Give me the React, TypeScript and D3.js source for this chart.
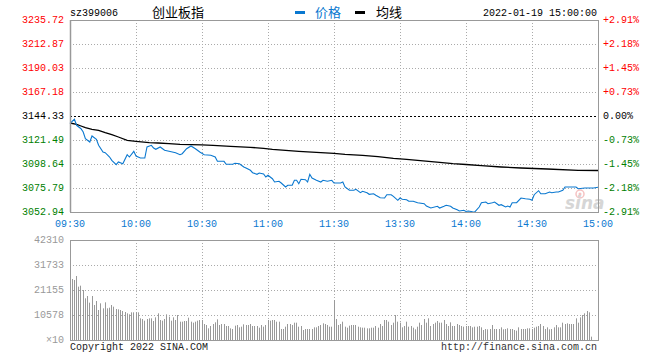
import React from "react";
import * as d3 from "d3";

const priceTicks = [3235.72, 3212.87, 3190.03, 3167.18, 3144.33, 3121.49, 3098.64, 3075.79, 3052.94];
const pctTicks = ["+2.91%", "+2.18%", "+1.45%", "+0.73%", "0.00%", "-0.73%", "-1.45%", "-2.18%", "-2.91%"];
const timeMinutes = [0, 30, 60, 90, 120, 150, 180, 210, 240];
const timeLabels = ["09:30", "10:00", "10:30", "11:00", "11:30", "13:30", "14:00", "14:30", "15:00"];
const volTickValues = [42310, 31733, 21155, 10578, 0];
const volTickLabels = ["42310", "31733", "21155", "10578", "×10"];

const priceT = [0,2,3,5,6,7,9,10,12,13,15,16,18,19,21,22,24,26,27,29,30,32,34,35,37,38,39,41,43,45,48,50,51,53,55,57,59,61,64,66,67,70,71,74,75,77,79,80,82,83,85,86,88,89,90,92,93,95,96,98,99,101,102,103,104,105,107,108,109,110,112,114,115,117,119,120,123,124,125,127,129,130,132,133,135,136,138,139,141,143,144,146,147,149,150,151,153,154,156,158,161,162,164,167,168,170,171,173,174,176,177,179,180,181,183,184,186,187,189,190,192,193,195,196,198,199,200,201,203,205,207,209,210,211,213,214,216,218,219,221,222,224,225,228,230,231,234,236,238,240];
const priceV = [3137.3,3141.19,3135.48,3132.24,3129.10,3122.72,3119.58,3125.29,3122.15,3116.43,3110.06,3109.39,3105.29,3102.15,3097.96,3100.53,3098.92,3107.48,3105.29,3110.72,3106.25,3104.34,3104.34,3114.82,3116.43,3113.86,3112.63,3114.82,3111.67,3110.72,3109.39,3107.48,3108.44,3113.20,3115.77,3113.20,3110.06,3107.48,3106.91,3105.29,3101.20,3101.20,3098.34,3098.34,3099.30,3098.92,3095.77,3094.82,3092.63,3090.35,3088.82,3090.06,3089.11,3086.25,3087.87,3084.63,3081.49,3082.16,3080.54,3076.73,3078.35,3078.35,3083.11,3083.11,3079.87,3084.06,3083.68,3081.49,3088.82,3085.30,3083.11,3081.49,3083.11,3082.16,3083.11,3080.54,3080.54,3081.49,3076.73,3073.59,3073.59,3074.54,3071.31,3072.64,3071.31,3069.78,3070.35,3068.83,3066.55,3066.26,3069.40,3069.40,3067.88,3064.07,3066.26,3065.02,3064.64,3063.12,3063.12,3061.78,3060.83,3058.64,3056.74,3058.36,3056.74,3058.36,3059.31,3058.36,3056.74,3055.12,3053.88,3054.55,3053.41,3053.88,3053.20,3053.00,3057.69,3061.78,3062.45,3060.83,3061.78,3062.45,3059.31,3059.88,3057.69,3058.64,3057.69,3061.78,3061.78,3066.26,3065.59,3065.02,3064.07,3069.40,3073.21,3070.35,3070.35,3071.97,3071.31,3071.97,3071.97,3073.59,3076.73,3076.73,3076.73,3075.11,3075.78,3075.78,3075.78,3076.45];

const avgT = [0,3,5,7,10,13,16,19,22,26,30,36,40,45,50,60,65,73,82,88,92,98,104,112,120,125,133,140,147,153,158,163,168,174,180,187,196,205,217,231,240];
const avgV = [3137.67,3136.43,3134.81,3133.19,3131.67,3130.72,3128.43,3126.53,3124.34,3121.19,3120.24,3118.91,3118.62,3117.96,3117.39,3116.9,3116.43,3115.48,3114.53,3113.58,3112.63,3111.67,3110.72,3109.77,3108.82,3107.87,3106.91,3105.58,3104.06,3103.11,3102.15,3101.20,3100.25,3098.92,3098.15,3097.01,3095.77,3094.82,3093.87,3092.63,3092.44];

const volumes = [
  42310,25809,25386,27078,22565,22988,21155,17629,18616,15797,18616,14808,16501,12693,15515,13398,15938,13398,13680,14808,
  14103,13116,12975,12693,12270,11847,11283,10860,11706,11706,11706,11706,9167,8885,8180,8885,9167,9167,8039,9590,
  11283,8462,8180,8885,10860,9872,8180,9590,8462,10578,7757,7757,8039,8039,9449,7757,7334,7757,8180,8462,
  8462,6770,6347,4936,5923,6770,7475,8744,6347,6770,6770,5923,5923,4936,4654,6065,6347,5359,5641,6629,
  6347,6347,6770,5923,5923,5923,5218,6347,5641,6347,8462,8180,8462,8462,7757,7757,4654,4654,5641,6770,
  6770,6347,7334,7334,5641,5923,4231,4654,4654,4654,4654,5359,5359,5923,6347,7052,6770,6347,5641,5641,
  16924,8885,6347,6770,7757,5641,5218,6065,6347,6347,6347,5641,5359,5218,5218,4936,4936,5218,5218,5923,
  5218,6770,5923,8462,8462,7757,6347,7334,10578,7757,7334,5359,5923,7757,5641,5923,5218,4513,5641,7334,
  6347,8885,7334,9167,5923,6770,7334,8039,7334,7334,8462,6770,5923,7475,5923,5923,6770,6347,5923,5641,
  5923,5923,5923,5359,5641,5641,5923,5359,4231,4654,4513,4654,6347,4654,4654,4654,5359,4513,4654,4936,
  4654,4654,4231,3949,5359,4654,4654,4654,4936,4936,4654,5218,5641,5923,6770,5923,4654,5359,4513,4654,
  5359,6347,5359,5359,7334,6770,7052,6770,6770,6770,9167,7334,9590,10578,11283,12270,11706,1411,0,0,0
];

const W = 660, H = 360;
const L = 70, R = 598, PT = 20, PB = 212, VT = 240, VB = 340;
const MONO = "'Liberation Mono', 'DejaVu Sans Mono', monospace";
const CJK = "'Noto Sans CJK SC', sans-serif";
const RED = "#ff0000", GREEN = "#008000", BLUE = "#0a78d0";

export default function App() {
  const x = d3.scaleLinear().domain([0, 240]).range([L, R]);
  const y = d3.scaleLinear().domain([3052.94, 3235.72]).range([PB, PT]);
  const yv = d3.scaleLinear().domain([0, 42310]).range([VB, VT]);
  const base = 3144.33;

  const priceLine = d3.line<number>().x((_, i) => x(priceT[i])).y((v) => y(v))(priceV) || "";
  const avgLine = d3.line<number>().x((_, i) => x(avgT[i])).y((v) => y(v))(avgV) || "";

  const labelColor = (v: number) => (Math.abs(v - base) < 0.01 ? "#000" : v > base ? RED : GREEN);

  return (
    <svg width={W} height={H} style={{ position: "absolute", left: 0, top: 0, background: "#fff" }}
      fontFamily={MONO} fontSize={10}>
      {/* header */}
      <text x={70} y={13} dominantBaseline="middle" fill="#000">sz399006</text>
      <text x={152} y={13} dominantBaseline="middle" fontFamily={CJK} fontSize={13} fill="#000">创业板指</text>
      <rect x={295} y={11} width={10} height={3} fill={BLUE} />
      <text x={315} y={13} dominantBaseline="middle" fontFamily={CJK} fontSize={13} fill={BLUE}>价格</text>
      <rect x={355} y={11} width={10} height={3} fill="#000" />
      <text x={376} y={13} dominantBaseline="middle" fontFamily={CJK} fontSize={13} fill="#000">均线</text>
      <text x={597} y={13} dominantBaseline="middle" textAnchor="end" fill="#000">2022-01-19 15:00:00</text>

      {/* price grid */}
      {priceTicks.slice(1, -1).map((v) => Math.abs(v - base) < 0.01 ? null : (
        <line key={"hg" + v} x1={L} x2={R} y1={Math.round(y(v)) + 0.5} y2={Math.round(y(v)) + 0.5}
          stroke="#aaa" strokeDasharray="1,2" />
      ))}
      {timeMinutes.slice(1, -1).map((t) => (
        <line key={"vg" + t} x1={Math.round(x(t)) + 0.5} x2={Math.round(x(t)) + 0.5} y1={PT} y2={PB}
          stroke="#aaa" strokeDasharray="1,2" />
      ))}
      <line x1={L} x2={R} y1={Math.round(y(base)) + 0.5} y2={Math.round(y(base)) + 0.5} stroke="#000" strokeDasharray="2,2" />

      {/* watermark */}
      <g opacity={0.6}>
        <circle cx={580} cy={194} r={4} fill="none" stroke="#f09a9a" strokeWidth={1.5} />
        <circle cx={580} cy={194} r={1.5} fill="#f09a9a" />
        <text x={565} y={209} fontFamily="'DejaVu Sans', sans-serif" fontStyle="italic" fontWeight="bold" fontSize={17} fill="#bbb">sina</text>
      </g>

      {/* lines */}
      <path d={avgLine} fill="none" stroke="#000" strokeWidth={1.3} />
      <path d={priceLine} fill="none" stroke={BLUE} strokeWidth={1.1} />

      {/* price frame */}
      <rect x={L + 0.5} y={PT + 0.5} width={R - L} height={PB - PT} fill="none" stroke="#999" />
      <line x1={L + 0.5} x2={L + 0.5} y1={PT} y2={PB} stroke="#999" strokeWidth={1.5} />

      {/* price labels */}
      {priceTicks.map((v, i) => (
        <g key={"pl" + i}>
          <text x={64} y={y(v)} textAnchor="end" dominantBaseline="middle" fill={labelColor(v)}>{v.toFixed(2)}</text>
          <text x={603} y={y(v)} dominantBaseline="middle" fill={labelColor(v)}>{pctTicks[i]}</text>
        </g>
      ))}
      {timeMinutes.map((t, i) => (
        <text key={"tl" + t} x={x(t)} y={224} textAnchor="middle" dominantBaseline="middle" fill={BLUE}>{timeLabels[i]}</text>
      ))}

      {/* volume grid */}
      {volTickValues.slice(1, -1).map((v) => (
        <line key={"vh" + v} x1={L} x2={R} y1={Math.round(yv(v)) + 0.5} y2={Math.round(yv(v)) + 0.5}
          stroke="#aaa" strokeDasharray="1,2" />
      ))}
      {timeMinutes.slice(1, -1).map((t) => (
        <line key={"vv" + t} x1={Math.round(x(t)) + 0.5} x2={Math.round(x(t)) + 0.5} y1={VT} y2={VB}
          stroke="#aaa" strokeDasharray="1,2" />
      ))}
      {volumes.map((v, i) => v > 0 ? (
        <rect key={"vb" + i} x={Math.floor(x(i))} y={yv(v)} width={1} height={VB - yv(v)} fill="#999" />
      ) : null)}
      <rect x={L + 0.5} y={VT + 0.5} width={R - L} height={VB - VT} fill="none" stroke="#999" />
      {volTickValues.map((v, i) => (
        <text key={"vl" + i} x={64} y={yv(v)} textAnchor="end" dominantBaseline="middle" fill="#999">{volTickLabels[i]}</text>
      ))}

      {/* footer */}
      <text x={70} y={347} dominantBaseline="middle" fill="#222">Copyright 2022 SINA.COM</text>
      <text x={597} y={347} textAnchor="end" dominantBaseline="middle" fill="#333">http://finance.sina.com.cn</text>
    </svg>
  );
}
